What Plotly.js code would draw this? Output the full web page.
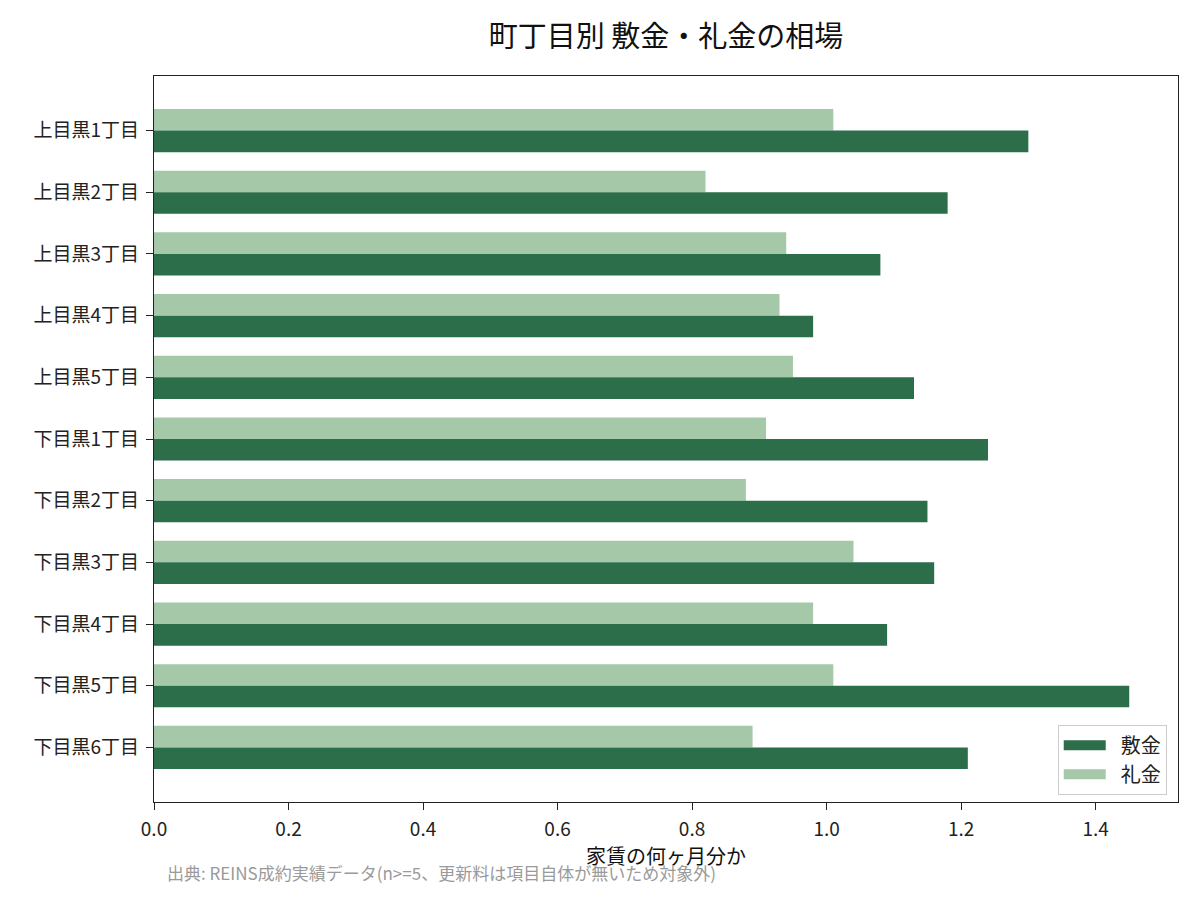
<!DOCTYPE html>
<html>
<head>
<meta charset="utf-8">
<script src="https://cdn.plot.ly/plotly-3.0.1.min.js"></script>
<style>
  html, body { margin: 0; padding: 0; background: white; }
  #chart { width: 1200px; height: 900px; }
</style>
</head>
<body>
<div id="chart"></div>
<script>
// Data
const areas = ['上目黒1丁目', '上目黒2丁目', '上目黒3丁目', '上目黒4丁目', '上目黒5丁目',
               '下目黒1丁目', '下目黒2丁目', '下目黒3丁目', '下目黒4丁目', '下目黒5丁目', '下目黒6丁目'];
const shikikin = [1.30, 1.18, 1.08, 0.98, 1.13, 1.24, 1.15, 1.16, 1.09, 1.45, 1.21];
const reikin = [1.01, 0.82, 0.94, 0.93, 0.95, 0.91, 0.88, 1.04, 0.98, 1.01, 0.89];
const xTicks = [0.0, 0.2, 0.4, 0.6, 0.8, 1.0, 1.2, 1.4];

const FONT = 'Noto Sans CJK JP, Noto Sans, sans-serif';
const DARK = '#2c6e4a';
const LIGHT = '#a5c9a8';

function plotChart() {
    // 礼金 first so it sits above 敷金 on the reversed axis
    const reikinBars = {
        type: 'bar',
        orientation: 'h',
        name: '礼金',
        x: reikin,
        y: areas,
        marker: { color: LIGHT },
        showlegend: false
    };

    const shikikinBars = {
        type: 'bar',
        orientation: 'h',
        name: '敷金',
        x: shikikin,
        y: areas,
        marker: { color: DARK },
        showlegend: false
    };

    // legend-only entries, drawn as thick lines to get wide rectangular swatches
    const legendShikikin = {
        type: 'scatter', mode: 'lines', name: '\u2002敷金',
        x: [null], y: [null],
        line: { color: DARK, width: 15 },
        hoverinfo: 'skip'
    };
    const legendReikin = {
        type: 'scatter', mode: 'lines', name: '\u2002礼金',
        x: [null], y: [null],
        line: { color: LIGHT, width: 15 },
        hoverinfo: 'skip'
    };

    const n = areas.length;
    const maxVal = Math.max(...shikikin, ...reikin);

    const layout = {
        width: 1200,
        height: 900,
        title: {
            text: '町丁目別 敷金・礼金の相場',
            font: { family: FONT, size: 29, color: '#111' },
            x: 0.555,
            xanchor: 'center',
            y: 1 - 37 / 900,
            yanchor: 'middle'
        },
        barmode: 'group',
        bargap: 0.3,
        bargroupgap: 0,
        xaxis: {
            range: [0, maxVal * 1.05],
            tickvals: xTicks,
            ticktext: xTicks.map(v => v.toFixed(1)),
            ticks: 'outside',
            ticklen: 7,
            tickwidth: 1.2,
            tickcolor: '#222',
            ticklabelstandoff: 3,
            showline: true,
            linecolor: '#222',
            linewidth: 1.2,
            mirror: true,
            showgrid: false,
            zeroline: false,
            tickfont: { family: FONT, size: 19, color: '#222' },
            title: {
                text: '家賃の何ヶ月分か',
                font: { family: FONT, size: 20, color: '#111' },
                standoff: 8
            },
            automargin: false
        },
        yaxis: {
            type: 'category',
            range: [n - 1 + 0.885, -0.885],
            ticks: 'outside',
            ticklen: 7,
            tickwidth: 1.2,
            tickcolor: '#222',
            ticklabelstandoff: 3,
            showline: true,
            linecolor: '#222',
            linewidth: 1.2,
            mirror: true,
            showgrid: false,
            zeroline: false,
            tickfont: { family: FONT, size: 19, color: '#222' },
            automargin: false
        },
        margin: { l: 154, r: 22, t: 76, b: 98, pad: 0 },
        showlegend: true,
        legend: {
            x: 0.989,
            xanchor: 'right',
            y: 0.01,
            yanchor: 'bottom',
            bgcolor: 'rgba(255,255,255,0.9)',
            bordercolor: '#cccccc',
            borderwidth: 1,
            font: { family: FONT, size: 20, color: '#222' },
            itemwidth: 42,
            tracegroupgap: 0
        },
        annotations: [{
            text: '出典: REINS成約実績データ(n>=5、更新料は項目自体が無いため対象外)',
            xref: 'paper',
            yref: 'paper',
            x: 0.0107,
            xanchor: 'left',
            y: -(872 - 802) / 726,
            yanchor: 'middle',
            showarrow: false,
            font: { family: FONT, size: 17, color: '#9a9a9a' }
        }],
        plot_bgcolor: 'white',
        paper_bgcolor: 'white'
    };

    Plotly.newPlot('chart', [reikinBars, shikikinBars, legendShikikin, legendReikin], layout, { displayModeBar: false });
}

plotChart();
</script>
</body>
</html>
